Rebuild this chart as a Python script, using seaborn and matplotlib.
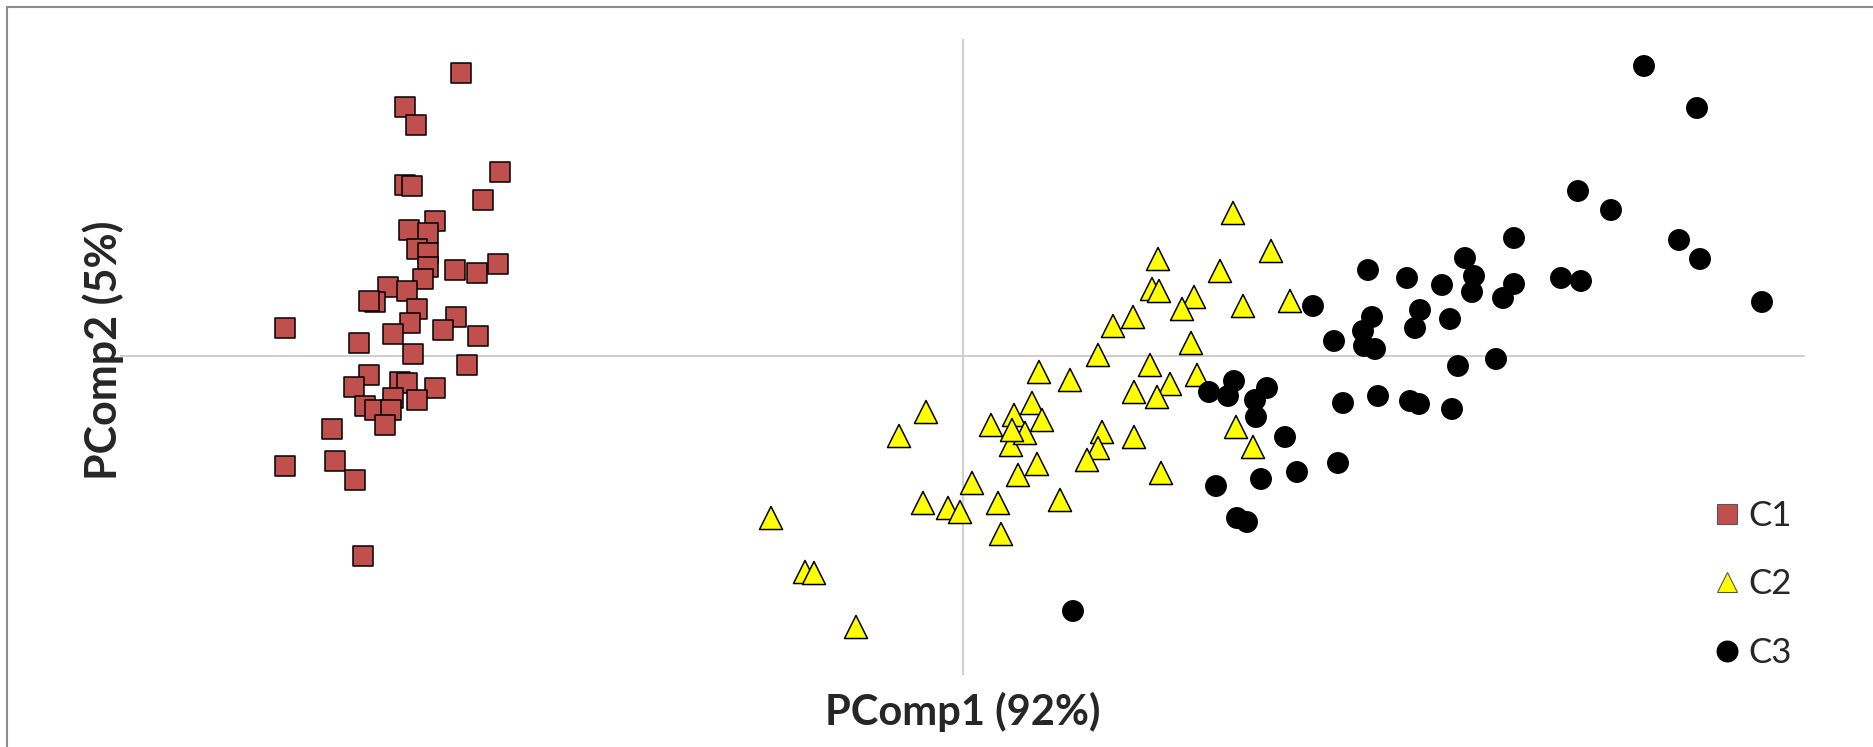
import matplotlib
matplotlib.use("Agg")
import matplotlib.pyplot as plt
from matplotlib.lines import Line2D
import pandas as pd
import seaborn as sns

# ---- data (PCA scores) ----
groups = ["C1", "C2", "C3"]

c1_pc1 = [-5.02, -5.58, -5.47, -4.63, -5.58, -5.51, -4.80, -5.28, -5.54, -5.35,
          -5.46, -5.35, -5.35, -5.08, -4.86, -4.65, -5.40, -5.75, -5.56, -5.88,
          -5.94, -5.46, -5.53, -5.07, -5.20, -4.85, -6.78, -6.04, -5.70, -5.50,
          -4.96, -5.94, -6.09, -5.63, -5.56, -5.28, -5.70, -5.46, -5.98, -5.88,
          -5.72, -5.78, -6.31, -6.78, -6.28, -6.08, -6.00]
c1_pc2 = [2.83, 2.49, 2.31, 1.84, 1.71, 1.70, 1.56, 1.35, 1.26, 1.23,
          1.07, 1.03, 0.89, 0.86, 0.83, 0.92, 0.77, 0.69, 0.65, 0.54,
          0.55, 0.47, 0.33, 0.39, 0.26, 0.20, 0.28, 0.13, 0.22, 0.02,
          -0.09, -0.19, -0.31, -0.26, -0.27, -0.32, -0.42, -0.44, -0.50, -0.54,
          -0.54, -0.69, -0.73, -1.10, -1.05, -1.24, -2.00]

c2_pc1 = [-0.37, -0.64, -1.92, -1.58, -1.49, -1.07, -0.40, -0.15, -0.03, 0.09,
          0.35, 0.38, 0.55, 0.28, 0.51, 0.48, 0.62, 0.49, 0.69, 2.70,
          3.08, 1.95, 2.57, 1.89, 1.96, 2.31, 2.19, 2.80, 3.27, 1.70,
          1.50, 2.28, 1.35, 0.76, 1.07, 1.87, 2.34, 2.07, 1.71, 1.94,
          0.79, 1.39, 1.71, 1.35, 1.24, 0.74, 1.98, 2.73, 2.90, 0.97]
c2_pc2 = [-0.56, -0.80, -1.62, -2.16, -2.17, -2.71, -1.47, -1.52, -1.56, -1.27,
          -1.47, -1.78, -1.19, -0.69, -0.59, -0.89, -0.77, -0.74, -0.47, 1.43,
          1.05, 0.97, 0.85, 0.67, 0.65, 0.59, 0.47, 0.50, 0.55, 0.39,
          0.30, 0.13, 0.01, -0.16, -0.24, -0.09, -0.19, -0.28, -0.36, -0.41,
          -0.64, -0.76, -0.81, -0.92, -1.04, -1.08, -1.17, -0.71, -0.91, -1.44]

c3_pc1 = [5.51, 5.02, 5.11, 5.09, 4.05, 4.44, 4.79, 5.51, 5.40, 3.50,
          4.57, 4.87, 4.52, 4.09, 4.00, 3.71, 4.01, 4.12, 4.95, 5.33,
          2.71, 2.46, 2.65, 3.04, 2.92, 2.93, 3.80, 4.15, 4.47, 4.56,
          4.89, 3.22, 3.75, 3.34, 2.98, 2.53, 2.74, 2.84, 1.10, 5.98,
          6.18, 6.15, 6.48, 7.16, 7.37, 7.99, 6.81, 7.34]
c3_pc2 = [1.18, 0.98, 0.80, 0.64, 0.86, 0.78, 0.71, 0.72, 0.58, 0.50,
          0.46, 0.37, 0.28, 0.39, 0.25, 0.15, 0.10, 0.07, -0.10, -0.03,
          -0.25, -0.36, -0.40, -0.32, -0.44, -0.61, -0.47, -0.40, -0.45, -0.48,
          -0.53, -0.81, -1.07, -1.16, -1.23, -1.30, -1.62, -1.66, -2.55, 0.78,
          0.75, 1.65, 1.46, 1.16, 0.97, 0.54, 2.90, 2.48]

x_label = "PComp1 (92%)"
y_label = "PComp2 (5%)"

# ---- styling ----
colors = {"C1": "#C0504D", "C2": "#FFFF00", "C3": "#000000"}
markers = {"C1": "s", "C2": "^", "C3": "o"}
marker_area = {"C1": 225, "C2": 275, "C3": 215}

sns.set_theme(style="white")
plt.rcParams["font.family"] = ["Lato", "DejaVu Sans"]

df = pd.concat([
    pd.DataFrame({"pc1": c1_pc1, "pc2": c1_pc2, "group": "C1"}),
    pd.DataFrame({"pc1": c2_pc1, "pc2": c2_pc2, "group": "C2"}),
    pd.DataFrame({"pc1": c3_pc1, "pc2": c3_pc2, "group": "C3"}),
], ignore_index=True)

W, H = 1874, 747
fig = plt.figure(figsize=(W / 100, H / 100), dpi=100)
ax_l, ax_r, ax_t, ax_b = 120, 1805, 39, 675
ax = fig.add_axes([ax_l / W, (H - ax_b) / H, (ax_r - ax_l) / W, (ax_b - ax_t) / H])

ax.axhline(0, color="#C6C6C6", lw=1.2, zorder=0)
ax.axvline(0, color="#C6C6C6", lw=1.2, zorder=0)

sns.scatterplot(data=df, x="pc1", y="pc2", hue="group", style="group",
                size="group", sizes=marker_area,
                palette=colors, markers=markers,
                edgecolor="black", linewidth=1.1, legend=False, ax=ax, zorder=3)

ax.set_xlim(-8.43, 8.42)
ax.set_ylim(-3.19, 3.17)
ax.set_xticks([])
ax.set_yticks([])
for sp in ax.spines.values():
    sp.set_visible(False)

ax.set_xlabel(x_label, fontsize=30, fontweight="bold", va="center")
ax.xaxis.set_label_coords(0.5, (ax_b - 712) / (ax_b - ax_t))
ax.set_ylabel(y_label, fontsize=31, fontweight="bold", va="center")
ax.yaxis.set_label_coords((103 - ax_l) / (ax_r - ax_l), 0.5 + 7 / (ax_b - ax_t))

handles = []
for g in groups:
    handles.append(Line2D([], [], linestyle="", marker=markers[g],
                          markersize=14 if g != "C3" else 15,
                          markerfacecolor=colors[g],
                          markeredgecolor="#555555" if g != "C3" else "black",
                          markeredgewidth=0.8, label=g))
fig.legend(handles=handles, loc="upper left",
           bbox_to_anchor=(1710 / W, (H - 500) / H), bbox_transform=fig.transFigure,
           frameon=False, fontsize=25, labelspacing=1.05, handlelength=1.0,
           handletextpad=0.1, borderpad=0, borderaxespad=0)

# figure frame (top and left edges visible in the reference)
fig.add_artist(Line2D([7 / W, 7 / W], [0, 1 - 7 / H], transform=fig.transFigure,
                      color="#8C8C8C", lw=1.5))
fig.add_artist(Line2D([7 / W, 1], [1 - 7 / H, 1 - 7 / H], transform=fig.transFigure,
                      color="#8C8C8C", lw=1.5))

fig.savefig("out.png", dpi=100)
